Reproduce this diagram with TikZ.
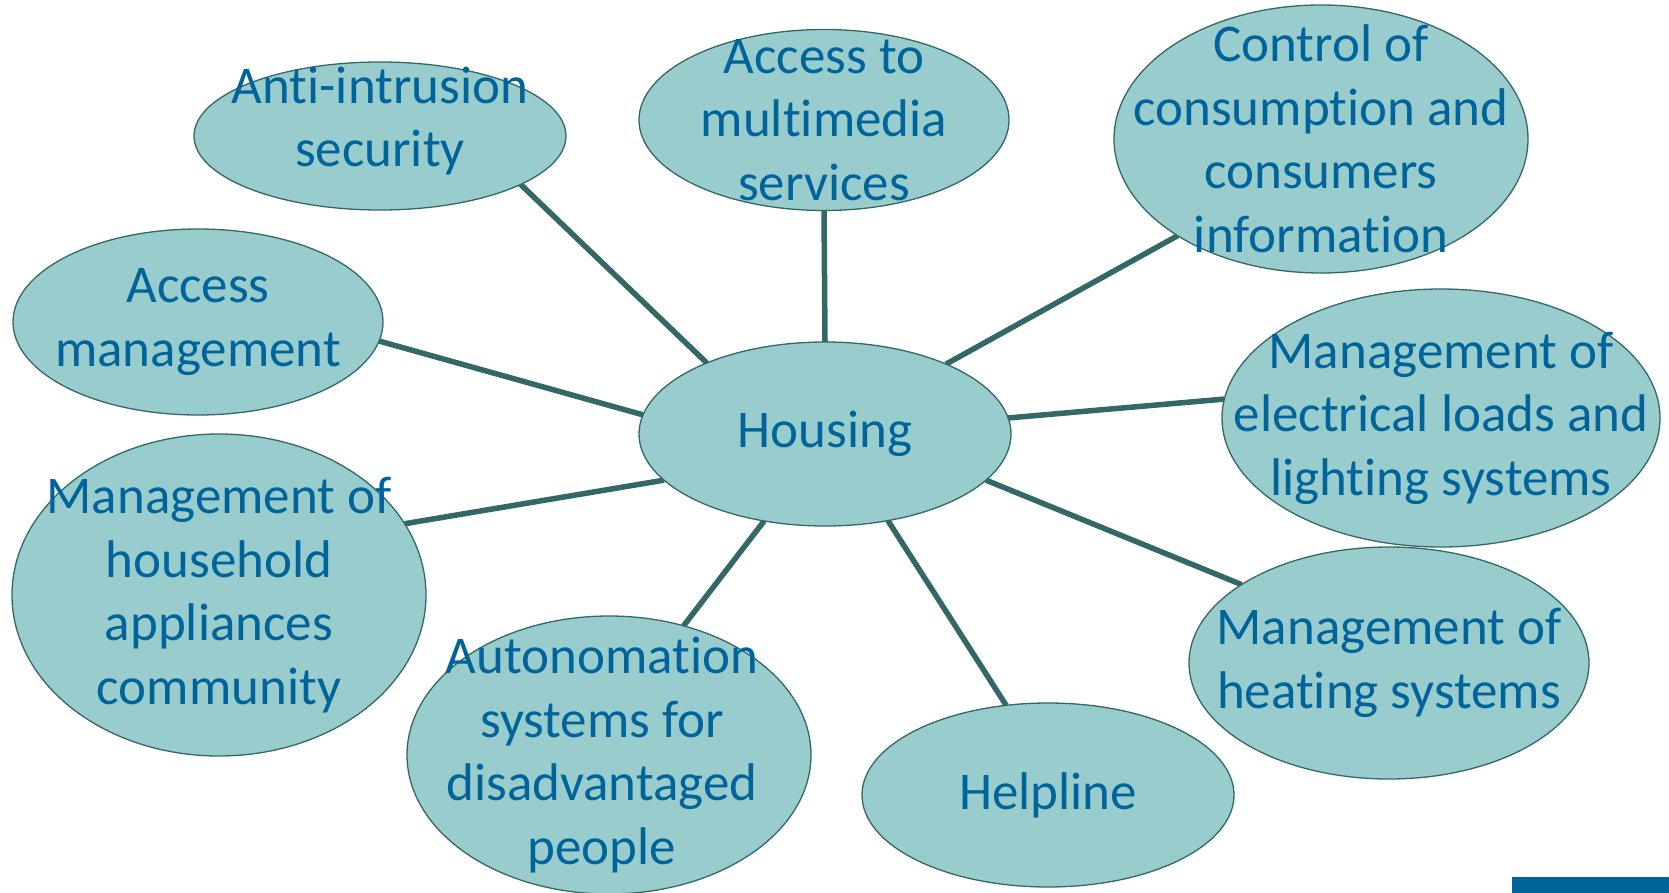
\documentclass[tikz,border=0pt]{standalone}
\usepackage{fontspec}
\setmainfont{Carlito}[Ligatures={NoCommon}]
\usetikzlibrary{shapes.geometric,backgrounds}
\definecolor{txt}{RGB}{0,100,155}
\definecolor{fillc}{RGB}{153,204,204}
\definecolor{edgec}{RGB}{51,104,102}
\definecolor{barc}{RGB}{0,102,153}
\begin{document}
\begin{tikzpicture}[x=1pt,y=-1pt,
 bub/.style={ellipse, draw=edgec, line width=1.3pt, fill=fillc, inner sep=0pt, outer sep=0pt},
 lbl/.style={text=txt, font=\fontsize{53}{63.5}\selectfont, align=center, inner sep=0pt},
 link/.style={draw=edgec, line width=5.5pt}]
\useasboundingbox (0,0) rectangle (1669,893);
\clip (0,0) rectangle (1669,893);

\node[bub, minimum width=372, minimum height=148, label={[lbl, yshift=15]center:Anti-intrusion\\security}] (anti) at (380,136) {};
\node[bub, minimum width=370, minimum height=181, label={[lbl]center:Access to\\multimedia\\services}] (media) at (824,120) {};
\node[bub, minimum width=414, minimum height=268, label={[lbl]center:Control of\\consumption and\\consumers\\information}] (control) at (1321,139) {};
\node[bub, minimum width=370, minimum height=186, label={[lbl]center:Access\\management}] (access) at (198,322) {};
\node[bub, minimum width=372, minimum height=184, label={[lbl]center:Housing}] (housing) at (825,434) {};
\node[bub, minimum width=438, minimum height=258, label={[lbl]center:Management of\\electrical loads and\\lighting systems}] (elec) at (1441,418) {};
\node[bub, minimum width=414, minimum height=322, label={[lbl]center:Management of\\household\\appliances\\community}] (house) at (219,595) {};
\node[bub, minimum width=400, minimum height=232, label={[lbl]center:Management of\\heating systems}] (heat) at (1389,663) {};
\node[bub, minimum width=404, minimum height=278, label={[lbl, xshift=-7]center:Autonomation\\systems for\\disadvantaged\\people}] (auto) at (609,755) {};
\node[bub, minimum width=372, minimum height=184, label={[lbl]center:Helpline}] (help) at (1048,795) {};

\begin{scope}[on background layer]
\draw[link] (housing.149.1) -- (anti.-19.5);
\draw[link] (housing.90) -- (media.270);
\draw[link] (housing.30.7) -- (control.214.3);
\draw[link] (housing.174.7) -- (access.-6.2);
\draw[link] (housing.5.3) -- (elec.175);
\draw[link] (housing.196) -- (house.21.5);
\draw[link] (housing.-16.2) -- (heat.152.5);
\draw[link] (housing.235.3) -- (auto.60.2);
\draw[link] (housing.-54) -- (help.115.8);
\end{scope}

\fill[barc] (1512,877) rectangle (1669,893);
\end{tikzpicture}
\end{document}
